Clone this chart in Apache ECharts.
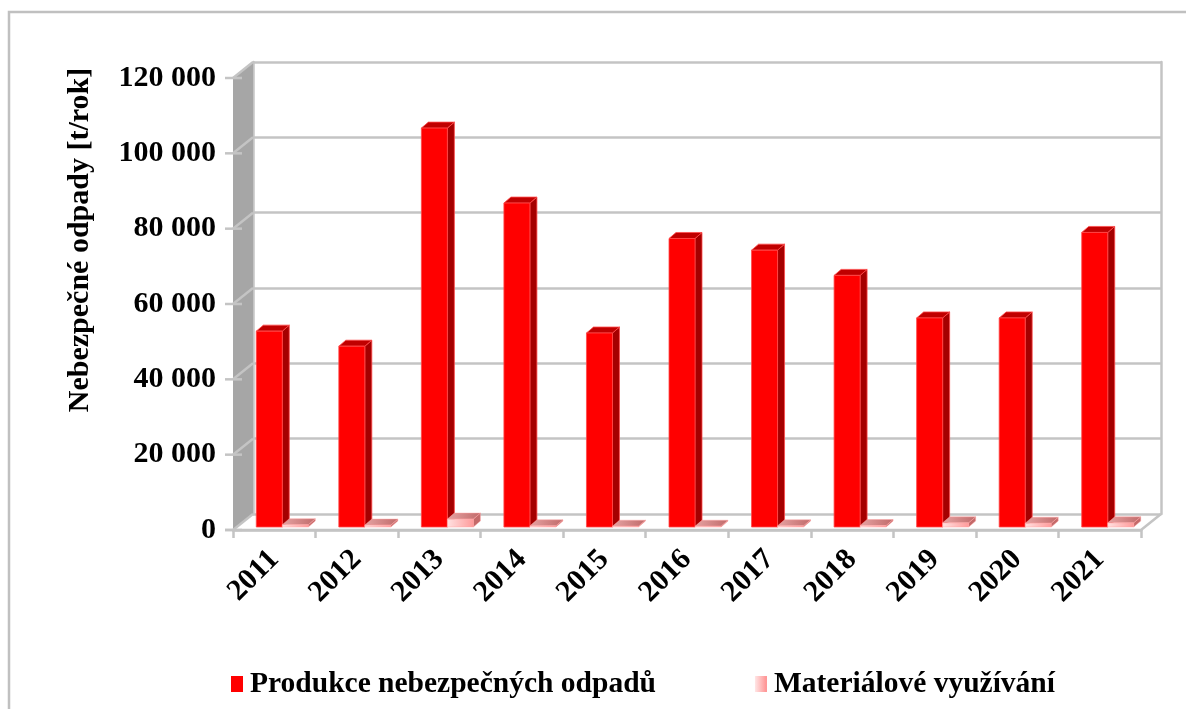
<!DOCTYPE html>
<html>
<head>
<meta charset="utf-8">
<script src="https://cdn.jsdelivr.net/npm/echarts@6/dist/echarts.min.js"></script>
<style>
  html, body { margin: 0; padding: 0; background: #fff; }
  #chart { width: 1186px; height: 709px; }
</style>
</head>
<body>
<div id="chart"></div>
<script>
// Hazardous waste in tonnes per year
const years = ['2011', '2012', '2013', '2014', '2015', '2016', '2017', '2018', '2019', '2020', '2021'];
const production = [52000, 48000, 105900, 86000, 51500, 76600, 73500, 66800, 55500, 55500, 78200];
const recovery = [600, 500, 2100, 300, 200, 200, 300, 400, 1100, 1000, 1100];
const seriesNames = ['Produkce nebezpečných odpadů', 'Materiálové využívání'];
const axisTitle = 'Nebezpečné odpady [t/rok]';
const yMin = 0, yMax = 120000, yStep = 20000;

// ---- layout & style ----
const FONT = 'Liberation Serif';
const FONT_SIZE = 30;
const LEGEND_SIZE = 29.5;
const GRID_GRAY = '#c4c4c4';
const WALL_GRAY = '#a6a6a6';
const FRONT = { left: 233, top: 78, right: 45, bottom: 179 };
const DEPTH = { dx: 20, dy: -16 };           // offset of the back wall
const BAR = { w: 26, shift: 8, lift: -3, dx: 7, dy: -6 };

const fmt = v => String(v).replace(/\B(?=(\d{3})+(?!\d))/g, ' ');

const redFaces = {
  front: '#ff0000',
  side: '#a50000',
  top: '#c00000',
  stroke: '#ff4a4a'
};
const pinkFaces = {
  front: new echarts.graphic.LinearGradient(0, 0, 1, 0, [
    { offset: 0, color: '#ffe2e2' }, { offset: 1, color: '#ff9a9a' }]),
  side: '#c46a6a',
  top: new echarts.graphic.LinearGradient(0, 0, 1, 0, [
    { offset: 0, color: '#e6a3a3' }, { offset: 1, color: '#c06a6a' }]),
  stroke: 'rgba(255,160,160,0.6)'
};

// draws one 3D column: front face, right side and top
function columnRenderer(slot, faces) {
  return function (params, api) {
    const i = api.value(0);
    const v = api.value(1);
    const base = api.coord([i, 0]);
    const top = api.coord([i, v]);
    const cx = base[0] + BAR.shift;
    const x0 = slot === 0 ? cx - BAR.w : cx;
    const x1 = x0 + BAR.w;
    const yb = base[1] + BAR.lift;
    const yt = top[1] + BAR.lift;
    const dx = BAR.dx, dy = BAR.dy;
    return {
      type: 'group',
      children: [
        { type: 'polygon',
          shape: { points: [[x1, yb], [x1, yt], [x1 + dx, yt + dy], [x1 + dx, yb + dy]] },
          style: { fill: faces.side, stroke: faces.stroke, lineWidth: 0.8 } },
        { type: 'polygon',
          shape: { points: [[x0, yt], [x1, yt], [x1 + dx, yt + dy], [x0 + dx, yt + dy]] },
          style: { fill: faces.top, stroke: faces.stroke, lineWidth: 0.8 } },
        { type: 'rect',
          shape: { x: x0, y: yt, width: BAR.w, height: yb - yt },
          style: { fill: faces.front, stroke: faces.stroke, lineWidth: 0.8 } }
      ]
    };
  };
}

// side wall, floor edges and tick marks of the 3D frame
function frameRenderer(params, api) {
  const cs = params.coordSys;
  const xl = cs.x, xr = cs.x + cs.width;
  const y0 = api.coord([0, yMin])[1];
  const yt = api.coord([0, yMax])[1];
  const dx = DEPTH.dx, dy = DEPTH.dy;
  const lineStyle = { stroke: GRID_GRAY, lineWidth: 2.5, fill: null };
  const children = [
    { type: 'polygon',
      shape: { points: [[xl, y0], [xl, yt], [xl + dx, yt + dy], [xl + dx, y0 + dy]] },
      style: { fill: WALL_GRAY } },
    { type: 'polyline',
      shape: { points: [[xl - 8, y0], [xr, y0], [xr + dx, y0 + dy]] },
      style: lineStyle }
  ];
  for (let v = yMin; v <= yMax; v += yStep) {
    const y = api.coord([0, v])[1];
    children.push({ type: 'line', shape: { x1: xl, y1: y, x2: xl + dx, y2: y + dy }, style: lineStyle });
    children.push({ type: 'line', shape: { x1: xl - 8, y1: y, x2: xl + 9, y2: y }, style: lineStyle });
  }
  return { type: 'group', children: children };
}

const chart = echarts.init(document.getElementById('chart'), null, { renderer: 'canvas' });

chart.setOption({
  animation: false,
  backgroundColor: '#ffffff',
  textStyle: { fontFamily: FONT },
  graphic: [
    { type: 'polyline', silent: true, z: 0,
      shape: { points: [[9, 709], [9, 12], [1186, 12]] },
      style: { stroke: '#c0c0c0', lineWidth: 2.5, fill: null } },
    { type: 'text', x: 80, y: 240, rotation: Math.PI / 2, z: 10,
      style: { text: axisTitle, font: 'bold ' + FONT_SIZE + 'px "' + FONT + '"', fill: '#000',
               align: 'center', verticalAlign: 'middle' } }
  ],
  legend: {
    left: 226, top: 664,
    itemWidth: 12, itemHeight: 16, itemGap: 99,
    icon: 'rect',
    data: seriesNames,
    selectedMode: false,
    textStyle: { fontFamily: FONT, fontWeight: 'bold', fontSize: LEGEND_SIZE, color: '#000', padding: [0, 0, 0, 2] }
  },
  grid: [
    { left: FRONT.left, top: FRONT.top, right: FRONT.right, bottom: FRONT.bottom },
    { left: FRONT.left + DEPTH.dx, top: FRONT.top + DEPTH.dy,
      right: FRONT.right - DEPTH.dx, bottom: FRONT.bottom - DEPTH.dy }
  ],
  xAxis: [
    { type: 'category', gridIndex: 0, data: years,
      axisLine: { show: true, lineStyle: { color: GRID_GRAY, width: 2.5 } },
      axisTick: { show: true, length: 8, interval: 0, lineStyle: { color: GRID_GRAY, width: 2.5 } },
      axisLabel: { rotate: 45, interval: 0, margin: 25, color: '#000',
                   fontFamily: FONT, fontWeight: 'bold', fontSize: FONT_SIZE },
      splitLine: { show: false } },
    { type: 'category', gridIndex: 1, data: years, show: false }
  ],
  yAxis: [
    { type: 'value', gridIndex: 0, min: yMin, max: yMax, interval: yStep,
      axisLine: { show: false }, axisTick: { show: false }, splitLine: { show: false },
      axisLabel: { margin: 17, color: '#000', fontFamily: FONT, fontWeight: 'bold',
                   fontSize: FONT_SIZE, formatter: fmt } },
    { type: 'value', gridIndex: 1, min: yMin, max: yMax, interval: yStep,
      axisLine: { show: true, lineStyle: { color: GRID_GRAY, width: 2.5 } },
      axisTick: { show: false }, axisLabel: { show: false },
      splitLine: { show: true, lineStyle: { color: GRID_GRAY, width: 2.5 } } },
    { type: 'value', gridIndex: 1, position: 'right', min: yMin, max: yMax, interval: yStep,
      axisLine: { show: true, lineStyle: { color: GRID_GRAY, width: 2.5 } },
      axisTick: { show: false }, axisLabel: { show: false }, splitLine: { show: false } }
  ],
  series: [
    { type: 'custom', name: 'frame', xAxisIndex: 0, yAxisIndex: 0, z: 1, silent: true,
      data: [[0, 0]], renderItem: frameRenderer },
    { type: 'custom', name: seriesNames[0], xAxisIndex: 0, yAxisIndex: 0, z: 3,
      itemStyle: { color: '#ff0000' },
      data: production.map((v, i) => [i, v]),
      encode: { x: 0, y: 1 },
      renderItem: columnRenderer(0, redFaces) },
    { type: 'custom', name: seriesNames[1], xAxisIndex: 0, yAxisIndex: 0, z: 4,
      itemStyle: { color: new echarts.graphic.LinearGradient(0, 0, 1, 0, [
        { offset: 0, color: '#ffe6e6' }, { offset: 1, color: '#ff8f8f' }]) },
      data: recovery.map((v, i) => [i, v]),
      encode: { x: 0, y: 1 },
      renderItem: columnRenderer(1, pinkFaces) }
  ]
});
</script>
</body>
</html>
